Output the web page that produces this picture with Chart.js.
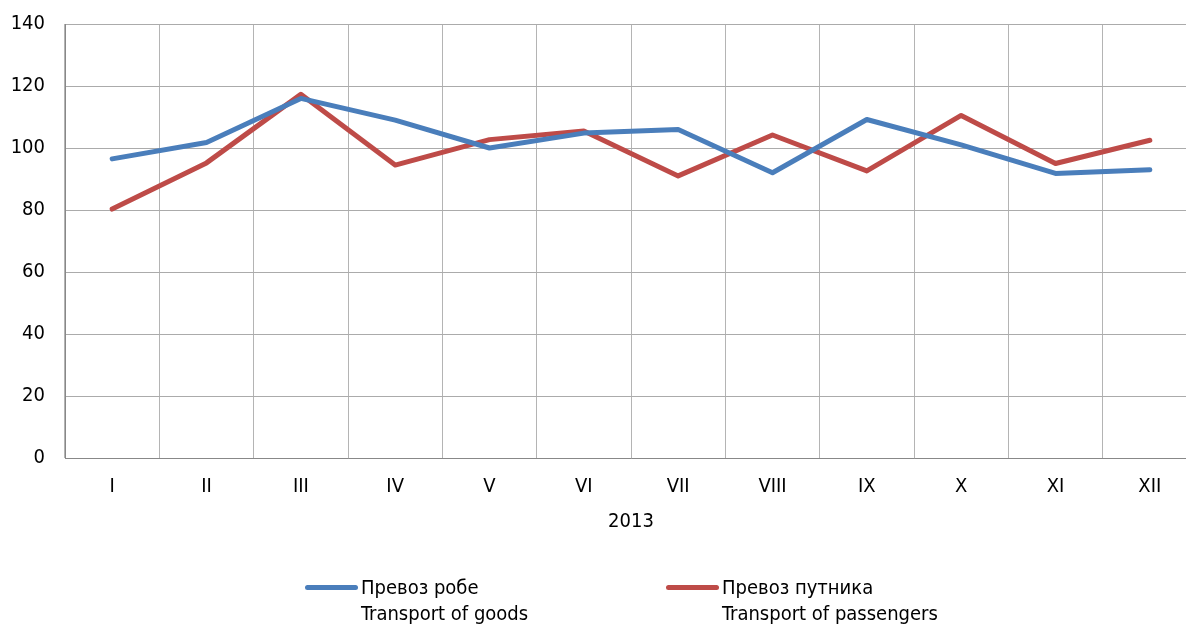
<!DOCTYPE html>
<html>
<head>
<meta charset="utf-8">
<script src="https://cdn.jsdelivr.net/npm/chart.js@4"></script>
<style>
  html, body { margin: 0; padding: 0; background: #fff; overflow: hidden; }
  #wrap { position: relative; width: 1198px; height: 624px; }
  #legend {
    position: absolute; left: 0; top: 574px; width: 1186px; height: 50px;
    font-family: Tahoma, "DejaVu Sans Condensed", "DejaVu Sans", sans-serif;
    font-size: 20px; line-height: 26px; color: #000;
  }
  .item { position: absolute; top: 0; white-space: nowrap; }
  .swatch { position: absolute; left: 0; top: 11px; width: 53px; height: 5px; border-radius: 3px; }
  .text { position: absolute; top: 0; left: 56px; }
</style>
</head>
<body>
<div id="wrap">
  <canvas id="chart"></canvas>
  <div id="legend"></div>
</div>
<script>
// Months of 2013 (roman numerals)
const months = ['I', 'II', 'III', 'IV', 'V', 'VI', 'VII', 'VIII', 'IX', 'X', 'XI', 'XII'];

// Transport of goods
const goods = [96.5, 101.8, 116, 109, 100, 104.8, 106, 92, 109.2, 101, 91.8, 93];

// Transport of passengers
const passengers = [80.3, 95.2, 117.3, 94.5, 102.7, 105.5, 91, 104.2, 92.6, 110.5, 95, 102.5];

const goodsLabel = ['Превоз робе', 'Transport of goods'];
const passengersLabel = ['Превоз путника', 'Transport of passengers'];

const font = 'Tahoma, "DejaVu Sans Condensed", "DejaVu Sans", sans-serif';

Chart.defaults.font.family = font;
Chart.defaults.color = '#000';

const chart = new Chart(document.getElementById('chart'), {
  type: 'line',
  data: {
    labels: months,
    datasets: [
      {
        label: goodsLabel,
        data: goods,
        borderColor: '#4a7ebb',
        backgroundColor: '#4a7ebb',
        borderWidth: 5,
        pointRadius: 0,
        tension: 0,
        borderCapStyle: 'round',
        borderJoinStyle: 'round',
      },
      {
        label: passengersLabel,
        data: passengers,
        borderColor: '#be4b48',
        backgroundColor: '#be4b48',
        borderWidth: 5,
        pointRadius: 0,
        tension: 0,
        borderCapStyle: 'round',
        borderJoinStyle: 'round',
      },
    ],
  },
  options: {
    responsive: true,
    maintainAspectRatio: false,
    animation: false,
    layout: { padding: { top: 24, right: 1, left: 0, bottom: 90 } },
    plugins: {
      tooltip: { enabled: false },
      legend: { display: false },
    },
    scales: {
      x: {
        offset: true,
        grid: { offset: true, color: '#b4b4b4', drawTicks: false },
        border: { color: '#888' },
        ticks: { padding: 17, font: { size: 20 } },
        title: { display: true, text: '2013', font: { size: 20 }, padding: { top: 6, bottom: 0 } },
        afterFit: (scale) => { scale.height = 76; },
      },
      y: {
        min: 0,
        max: 140,
        ticks: { stepSize: 20, padding: 20, font: { size: 20 } },
        grid: { color: '#ababab', drawTicks: false },
        border: { color: '#888' },
        afterFit: (scale) => {
          scale.width = 65;
          scale.paddingTop = 0;
          scale.paddingBottom = 0;
        },
      },
    },
  },
});

// Legend below the chart, built from the datasets
const legendLeft = [305, 666];
const legend = document.getElementById('legend');
chart.data.datasets.forEach((ds, i) => {
  const item = document.createElement('div');
  item.className = 'item';
  item.style.left = legendLeft[i] + 'px';
  item.innerHTML =
    '<span class="swatch" style="background:' + ds.borderColor + '"></span>' +
    '<span class="text">' + ds.label.join('<br>') + '</span>';
  legend.appendChild(item);
});
</script>
</body>
</html>
